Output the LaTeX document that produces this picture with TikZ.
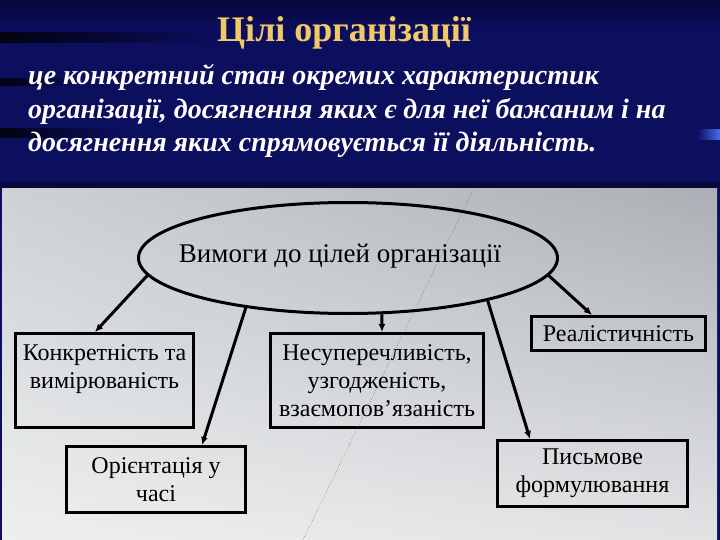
\documentclass[tikz,border=0pt]{standalone}
\usepackage{fontspec}
\setmainfont{Liberation Serif}
\usetikzlibrary{positioning,shapes.geometric,arrows.meta,fadings}
\tikzstyle{slide} = [x=1pt, y=-1pt]
\definecolor{headerColor}{RGB}{12,14,94}
\definecolor{headerDeep}{RGB}{8,8,60}
\definecolor{streakColor}{RGB}{2,2,16}
\definecolor{titleColor}{RGB}{242,200,105}
\definecolor{paperLight}{RGB}{206,210,213}
\definecolor{paperDark}{RGB}{172,176,182}
\definecolor{accentBlue}{RGB}{70,110,235}
\tikzstyle{goalBox} = [draw=black, line width=3pt, rectangle, inner sep=0pt, align=center, font=\fontsize{24}{28}\selectfont]
\tikzstyle{requirementEllipse} = [draw=black, line width=3pt, ellipse, inner sep=0pt, minimum width=419pt, minimum height=111pt]
\tikzstyle{requirementText} = [font=\fontsize{27}{32}\selectfont, anchor=base]
\tikzstyle{goalArrow} = [line width=3pt, -{Latex[length=8pt,width=7pt]}]
\tikzstyle{titleText} = [font=\bfseries\fontsize{36}{40}\selectfont, text=titleColor, anchor=base]
\tikzstyle{definitionText} = [font=\bfseries\itshape\fontsize{28}{33.5}\selectfont, text=white, anchor=base west, inner sep=0pt]
\tikzstyle{scanLine} = [dotted, line width=0.5pt, color=black!70]
\newcommand{\requirementBox}[5]{\node [goalBox, minimum width=#3, minimum height=#4] (#1) at (#2) {#5};}
\newcommand{\streak}[3]{\shade [left color=streakColor, right color=headerColor] (0,#1) rectangle (#3,#2);}

\begin{document}
\begin{tikzpicture}[slide]
  \useasboundingbox (0,0) rectangle (720,540);
  \shade [top color=headerDeep, bottom color=headerColor] (0,0) rectangle (720,30);
  \fill [headerColor] (0,30) rectangle (720,182);
  \fill [headerDeep] (0,182) rectangle (720,189);
  \streak{33}{43}{220}
  \streak{79}{86}{80}
  \streak{129}{138}{120}
  \shade [left color=headerColor, right color=accentBlue] (697,130) rectangle (720,140);
  \fill [headerColor] (0,189) rectangle (720,540);
  \shade [left color=paperLight, right color=paperDark] (2,189) rectangle (717,540);
  \fill [white, opacity=0.65, path fading=north] (2,189) rectangle (717,540);

  \node [titleText] (title) at (344,42) {Цілі організації};
  \node [definitionText] (definitionA) at (28,85) {це конкретний стан окремих характеристик};
  \node [definitionText] (definitionB) at (28,118.5) {організації, досягнення яких є для неї бажаним і на};
  \node [definitionText] (definitionC) at (28,152) {досягнення яких спрямовується її діяльність.};

  \node [requirementEllipse] (requirements) at (348,258) {};
  \node [requirementText] (requirementsText) at (340,262) {Вимоги до цілей організації};

  \requirementBox{concreteness}{104.5,380.5}{178pt}{94pt}{Конкретність та\\вимірюваність\\\mbox{}}
  \requirementBox{timeFrame}{156,479.5}{179pt}{66pt}{Орієнтація у\\часі}
  \requirementBox{consistency}{377,380.5}{213pt}{94pt}{Несуперечливість,\\узгодженість,\\взаємопов’язаність}
  \requirementBox{realism}{618.5,333.5}{174pt}{34pt}{Реалістичність}
  \requirementBox{writtenForm}{592.5,473.5}{190pt}{66pt}{Письмове\\формулювання}

  \draw [goalArrow] (requirements.185.7) -- ([xshift=-9.5pt]concreteness.north);
  \draw [goalArrow] (requirements.206) -- ([xshift=46pt]timeFrame.north);
  \draw [goalArrow] (requirements.301) -- ([xshift=5pt]consistency.north);
  \draw [goalArrow] (requirements.343) -- ([xshift=-62.5pt]writtenForm.north);
  \draw [goalArrow] (requirements.355) -- ([xshift=-26.5pt]realism.north);

  \draw [scanLine] (473,190) -- (303,540);
\end{tikzpicture}
\end{document}
